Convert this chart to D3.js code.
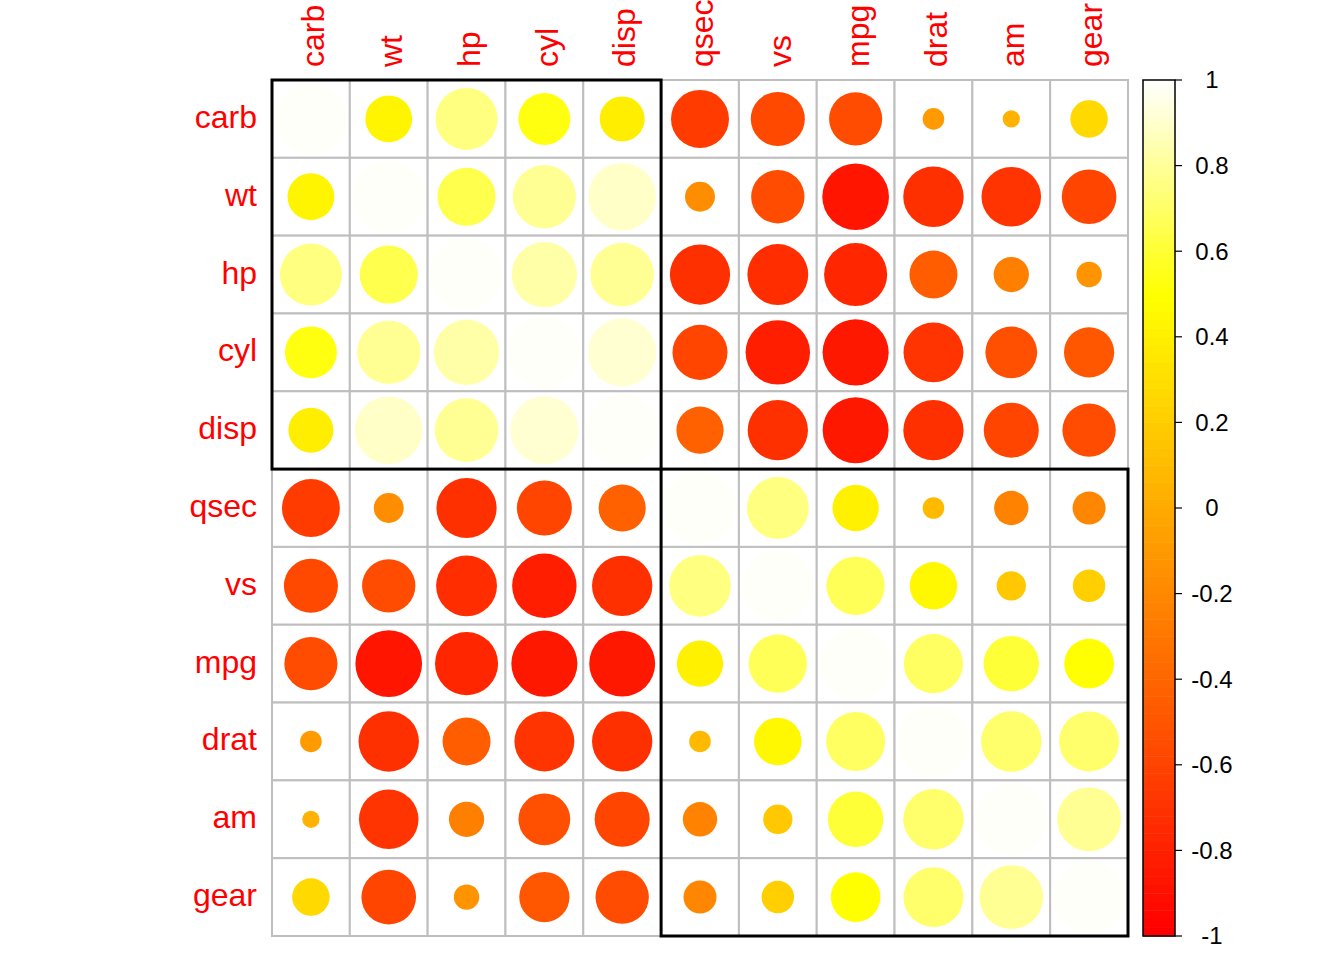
<!DOCTYPE html>
<html><head><meta charset="utf-8">
<script src="https://cdn.jsdelivr.net/npm/d3@7"></script>
<style>body{margin:0;background:#fff}svg{display:block}text{font-family:"Liberation Sans",Arial,sans-serif}</style>
</head><body><svg id="c" width="1344" height="960"></svg>
<script>
const vars = ["carb","wt","hp","cyl","disp","qsec","vs","mpg","drat","am","gear"];
const carb = [1, 0.428, 0.750, 0.527, 0.395, -0.656, -0.570, -0.551, -0.091, 0.058, 0.274];
const wt   = [0.428, 1, 0.659, 0.782, 0.888, -0.175, -0.555, -0.868, -0.712, -0.692, -0.583];
const hp   = [0.750, 0.659, 1, 0.832, 0.791, -0.708, -0.723, -0.776, -0.449, -0.243, -0.126];
const cyl  = [0.527, 0.782, 0.832, 1, 0.902, -0.591, -0.811, -0.852, -0.700, -0.523, -0.493];
const disp = [0.395, 0.888, 0.791, 0.902, 1, -0.434, -0.710, -0.848, -0.710, -0.591, -0.556];
const qsec = [-0.656, -0.175, -0.708, -0.591, -0.434, 1, 0.745, 0.419, 0.091, -0.230, -0.213];
const vs   = [-0.570, -0.555, -0.723, -0.811, -0.710, 0.745, 1, 0.664, 0.440, 0.168, 0.206];
const mpg  = [-0.551, -0.868, -0.776, -0.852, -0.848, 0.419, 0.664, 1, 0.681, 0.600, 0.480];
const drat = [-0.091, -0.712, -0.449, -0.700, -0.710, 0.091, 0.440, 0.681, 1, 0.713, 0.700];
const am   = [0.058, -0.692, -0.243, -0.523, -0.591, -0.230, 0.168, 0.600, 0.713, 1, 0.794];
const gear = [0.274, -0.583, -0.126, -0.493, -0.556, -0.213, 0.206, 0.480, 0.700, 0.794, 1];
const rows = [carb, wt, hp, cyl, disp, qsec, vs, mpg, drat, am, gear];
const clusters = [[0,4],[5,10]];
const legendTicks = [1,0.8,0.6,0.4,0.2,0,-0.2,-0.4,-0.6,-0.8,-1];

// heat.colors(100)
function hsv(h,s,v){
  const c=v*s, x=c*(1-Math.abs((h/60)%2-1)), m=v-c; let r,g,b;
  if(h<60){r=c;g=x;b=0;} else {r=x;g=c;b=0;}
  return d3.rgb((r+m)*255,(g+m)*255,(b+m)*255).formatHex();
}
function heatColors(n){
  const j = Math.floor(n/4), i = n - j, out = [];
  for(let k=0;k<i;k++){ const h = (i>1? k/(i-1):0)*(1/6)*360; out.push(hsv(h,1,1)); }
  for(let k=0;k<j;k++){ const s = (1-1/(2*j)) + (k/(j-1))*((1/(2*j))-(1-1/(2*j))); out.push(hsv(60,s,1)); }
  return out;
}
const pal = heatColors(100);
const colorOf = r => pal[Math.max(0, Math.min(pal.length-1, Math.floor((r+1)/2*pal.length)))];

const svg = d3.select("#c");
const x0 = 272, y0 = 80, W = 856;
const band = d3.scaleBand().domain(d3.range(vars.length)).range([0, W]);
const s = band.bandwidth();
const g = svg.append("g").attr("transform",`translate(${x0},${y0})`);

rows.forEach((row,ri)=>{
  row.forEach((v,ci)=>{
    g.append("rect").attr("x",band(ci)).attr("y",band(ri)).attr("width",s).attr("height",s)
      .attr("fill","white").attr("stroke","#BEBEBE").attr("stroke-width",2);
  });
});
const rScale = d3.scaleSqrt().domain([0,1]).range([0, 0.46*s]);
rows.forEach((row,ri)=>{
  row.forEach((v,ci)=>{
    g.append("circle").attr("cx",band(ci)+s/2).attr("cy",band(ri)+s/2)
      .attr("r",rScale(Math.abs(v))).attr("fill",colorOf(v));
  });
});
vars.forEach((v,i)=>{
  svg.append("text").attr("x",x0-15).attr("y",y0+band(i)+s/2).attr("dy","0.28em")
    .attr("text-anchor","end").attr("fill","red").attr("font-size",32).text(v);
  svg.append("text").attr("transform",`translate(${x0+band(i)+s/2+2},${y0-13}) rotate(-90)`)
    .attr("dy","0.35em").attr("text-anchor","start").attr("fill","red").attr("font-size",32).text(v);
});
clusters.forEach(([a,b])=>{
  g.append("rect").attr("x",band(a)).attr("y",band(a)).attr("width",band(b)+s-band(a)).attr("height",band(b)+s-band(a))
    .attr("fill","none").attr("stroke","black").attr("stroke-width",3);
});
const cbx = 1143, cbw = 32;
const ly = d3.scaleLinear().domain([-1,1]).range([y0+W, y0]);
pal.forEach((c,k)=>{
  const lo = -1 + 2*k/pal.length, hi = -1 + 2*(k+1)/pal.length;
  svg.append("rect").attr("x",cbx).attr("y",ly(hi)).attr("width",cbw).attr("height",ly(lo)-ly(hi)+0.5).attr("fill",c);
});
svg.append("rect").attr("x",cbx).attr("y",y0).attr("width",cbw).attr("height",W).attr("fill","none").attr("stroke","black").attr("stroke-width",1.5);
legendTicks.forEach(t=>{
  svg.append("line").attr("x1",cbx+cbw).attr("x2",cbx+cbw+7).attr("y1",ly(t)).attr("y2",ly(t)).attr("stroke","black").attr("stroke-width",1.2);
  svg.append("text").attr("x",1212).attr("y",ly(t)).attr("dy","0.35em").attr("text-anchor","middle")
    .attr("font-size",24).attr("fill","black").text(String(t));
});
</script></body></html>
